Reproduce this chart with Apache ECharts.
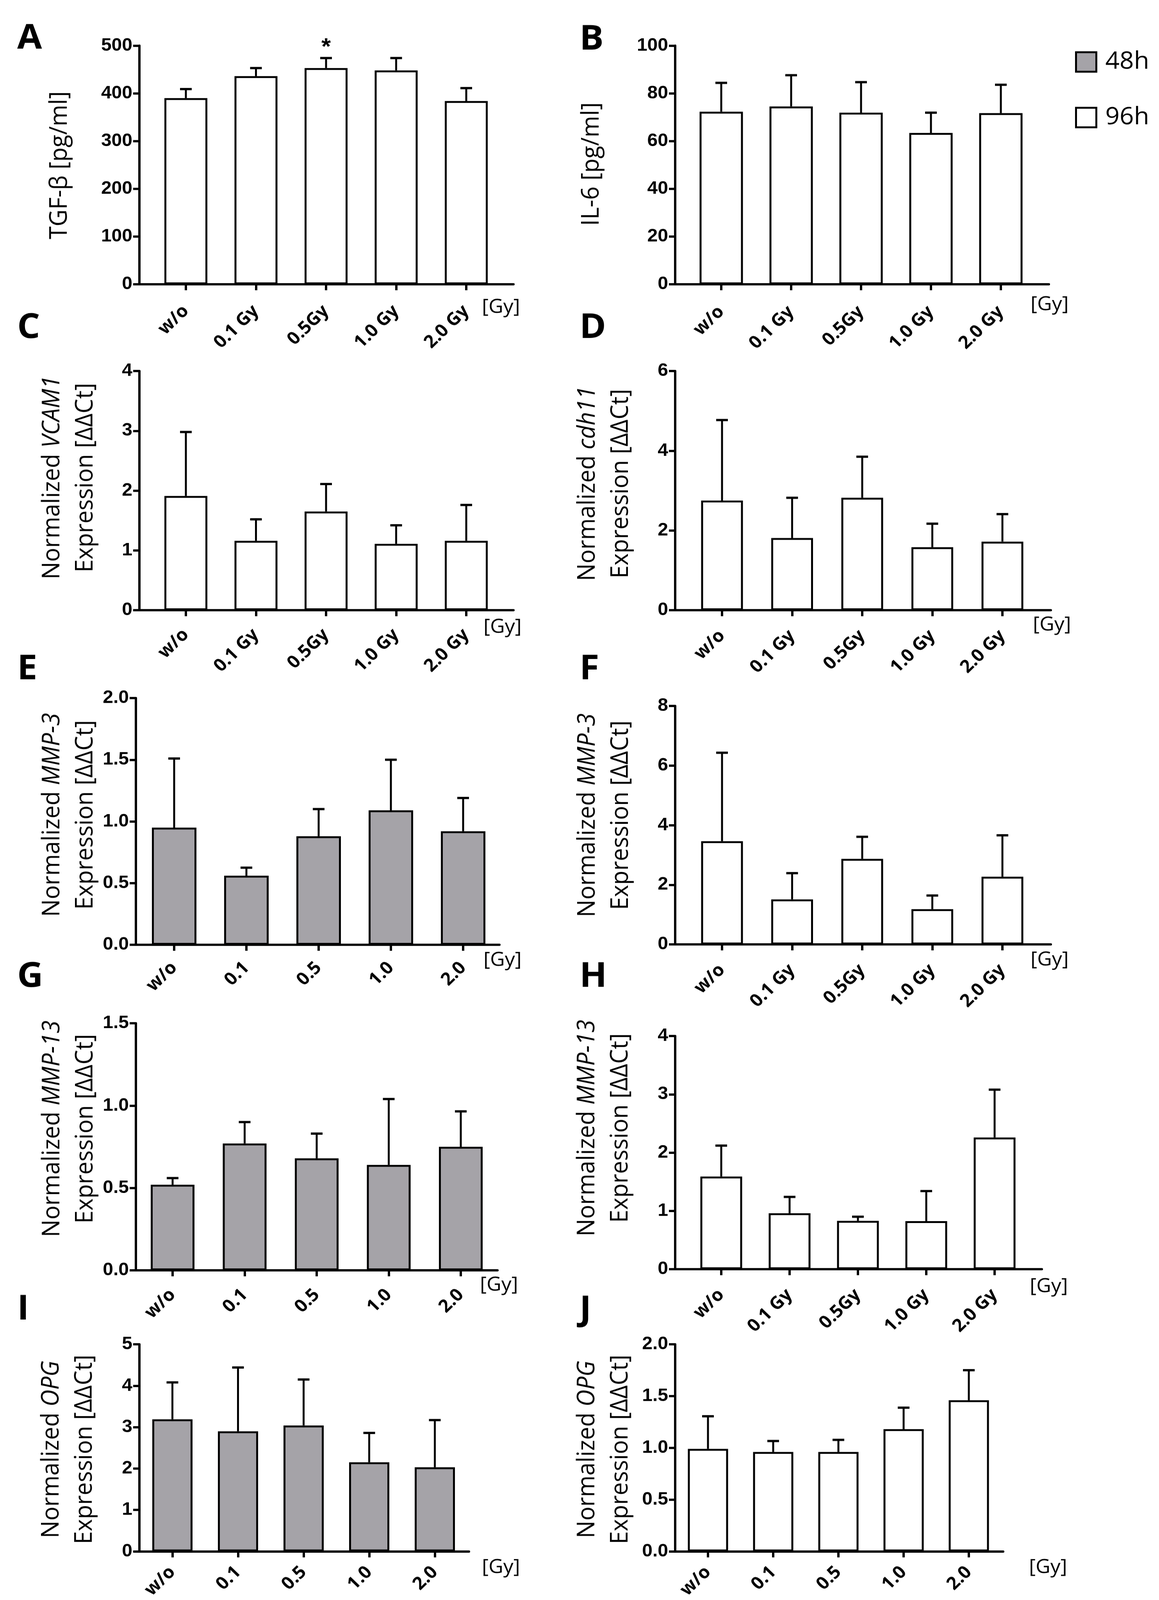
<!DOCTYPE html>
<html>
<head>
<meta charset="utf-8">
<script src="https://cdn.jsdelivr.net/npm/echarts@6/dist/echarts.min.js"></script>
<style>
html,body{margin:0;padding:0;background:#fff;overflow:hidden;}
#chart{width:2968px;height:4261px;transform-origin:0 0;}
</style>
</head>
<body>
<div id="chart"></div>
<script>
// ---------- data ----------
const categoriesGy = ['w/o', '0.1 Gy', '0.5Gy', '1.0 Gy', '2.0 Gy'];
const categoriesDose = ['w/o', '0.1', '0.5', '1.0', '2.0'];

const tgfbMean = [390, 436, 453, 448, 384];
const tgfbSD = [19, 17, 21, 26, 27];
const tgfbSig = ['', '', '*', '', ''];

const il6Mean = [72.3, 74.5, 71.9, 63.4, 71.7];
const il6SD = [12.1, 13.1, 12.8, 8.5, 11.9];

const vcam1Mean = [1.91, 1.16, 1.65, 1.11, 1.16];
const vcam1SD = [1.07, 0.36, 0.46, 0.31, 0.60];

const cdh11Mean = [2.75, 1.81, 2.82, 1.58, 1.72];
const cdh11SD = [2.02, 1.01, 1.03, 0.59, 0.69];

const mmp3h48Mean = [0.95, 0.56, 0.88, 1.09, 0.92];
const mmp3h48SD = [0.56, 0.065, 0.22, 0.41, 0.27];

const mmp3h96Mean = [3.46, 1.51, 2.87, 1.18, 2.27];
const mmp3h96SD = [2.97, 0.88, 0.74, 0.46, 1.39];

const mmp13h48Mean = [0.52, 0.77, 0.68, 0.64, 0.75];
const mmp13h48SD = [0.04, 0.13, 0.15, 0.40, 0.215];

const mmp13h96Mean = [1.59, 0.96, 0.83, 0.825, 2.26];
const mmp13h96SD = [0.53, 0.28, 0.07, 0.515, 0.82];

const opgh48Mean = [3.19, 2.90, 3.04, 2.15, 2.03];
const opgh48SD = [0.89, 1.54, 1.11, 0.71, 1.14];

const opgh96Mean = [0.99, 0.96, 0.96, 1.18, 1.46];
const opgh96SD = [0.315, 0.106, 0.117, 0.208, 0.29];

const legendNames = ['48h', '96h'];

// ---------- panel definitions ----------
const panels = [
  {id:'A', cats:categoriesGy, mean:tgfbMean, sd:tgfbSD, sig:tgfbSig, yMax:500, yStep:100, dec:0, group:'96h',
   title:'{n|TGF-β [pg/ml]}'},
  {id:'B', cats:categoriesGy, mean:il6Mean, sd:il6SD, yMax:100, yStep:20, dec:0, group:'96h',
   title:'{n|IL-6 [pg/ml]}'},
  {id:'C', cats:categoriesGy, mean:vcam1Mean, sd:vcam1SD, yMax:4, yStep:1, dec:0, group:'96h',
   title:'{n|Normalized }{i|VCAM1}\n{n|Expression [ΔΔCt]}'},
  {id:'D', cats:categoriesGy, mean:cdh11Mean, sd:cdh11SD, yMax:6, yStep:2, dec:0, group:'96h',
   title:'{n|Normalized }{i|cdh11}\n{n|Expression [ΔΔCt]}'},
  {id:'E', cats:categoriesDose, mean:mmp3h48Mean, sd:mmp3h48SD, yMax:2, yStep:0.5, dec:1, group:'48h',
   title:'{n|Normalized }{i|MMP-3}\n{n|Expression [ΔΔCt]}'},
  {id:'F', cats:categoriesGy, mean:mmp3h96Mean, sd:mmp3h96SD, yMax:8, yStep:2, dec:0, group:'96h',
   title:'{n|Normalized }{i|MMP-3}\n{n|Expression [ΔΔCt]}'},
  {id:'G', cats:categoriesDose, mean:mmp13h48Mean, sd:mmp13h48SD, yMax:1.5, yStep:0.5, dec:1, group:'48h',
   title:'{n|Normalized }{i|MMP-13}\n{n|Expression [ΔΔCt]}'},
  {id:'H', cats:categoriesGy, mean:mmp13h96Mean, sd:mmp13h96SD, yMax:4, yStep:1, dec:0, group:'96h',
   title:'{n|Normalized }{i|MMP-13}\n{n|Expression [ΔΔCt]}'},
  {id:'I', cats:categoriesDose, mean:opgh48Mean, sd:opgh48SD, yMax:5, yStep:1, dec:0, group:'48h',
   title:'{n|Normalized }{i|OPG}\n{n|Expression [ΔΔCt]}'},
  {id:'J', cats:categoriesDose, mean:opgh96Mean, sd:opgh96SD, yMax:2, yStep:0.5, dec:1, group:'96h',
   title:'{n|Normalized }{i|OPG}\n{n|Expression [ΔΔCt]}'}
];

// ---------- layout (pixel positions) ----------
// ttl = centre of the rotated y-axis title block
const layout = {
  A:{x0:357,  x1:1315, t0:476,  step:179.5, top:121.5, zero:757,  barW:110, ttl:[153,440],    lm:64, gy:[1234,820],  letter:[44,108]},
  B:{x0:1729, x1:2686, t0:1847, step:179,   top:121.5, zero:757,  barW:111, ttl:[1515,437],   lm:66, gy:[2639,813],  letter:[1484,110]},
  C:{x0:357,  x1:1315, t0:476,  step:179.5, top:988,   zero:1625, barW:110, ttl:[177,1272],   lm:58, gy:[1238,1672], letter:[44,878]},
  D:{x0:1729, x1:2691, t0:1849, step:179.5, top:988,   zero:1625, barW:107, ttl:[1548,1288],  lm:61, gy:[2645,1666], letter:[1484,878]},
  E:{x0:348,  x1:1279, t0:446,  step:185,   top:1859,  zero:2516, barW:114, ttl:[177,2170],   lm:54, gy:[1238,2559], letter:[44,1787]},
  F:{x0:1729, x1:2691, t0:1849, step:179.5, top:1880,  zero:2515, barW:107, ttl:[1548,2171],  lm:61, gy:[2639,2558], letter:[1484,1787]},
  G:{x0:348,  x1:1274, t0:442,  step:184.5, top:2725,  zero:3383, barW:112, ttl:[177,3006],   lm:58, gy:[1229,3424], letter:[44,2606]},
  H:{x0:1729, x1:2668, t0:1847, step:175,   top:2759,  zero:3380, barW:107, ttl:[1547,3004],  lm:61, gy:[2637,3428], letter:[1484,2606]},
  I:{x0:357,  x1:1201, t0:441.5,step:168,   top:3580,  zero:4139, barW:103, ttl:[175,3860],   lm:48, gy:[1234,4176], letter:[44,3492]},
  J:{x0:1729, x1:2569, t0:1813, step:167,   top:3580,  zero:4139, barW:103, ttl:[1547,3860],  lm:48, gy:[2635,4176], letter:[1484,3494]}
};

const FIG_W = 2968, FIG_H = 4261;
const SANS = "'Open Sans', 'DejaVu Sans', sans-serif";
const TICKF = "'Liberation Sans', Arial, 'DejaVu Sans', sans-serif";
const GRAY = '#a5a3a8';
const LW = 6;

// fit the whole figure into the visible viewport
const dom = document.getElementById('chart');
const vw = window.innerWidth || FIG_W, vh = window.innerHeight || FIG_H;
dom.style.transform = 'scale(' + (vw / FIG_W) + ',' + (vh / FIG_H) + ')';

const grids = [], xAxes = [], yAxes = [], series = [], graphics = [];

function errRender(sig) {
  return function (params, api) {
    const k = api.value(0), m = api.value(1), s = api.value(2);
    const base = api.coord([k, m]);
    const top = api.coord([k, m + s]);
    const half = 15;
    const children = [
      {type:'line', shape:{x1:base[0], y1:base[1], x2:top[0], y2:top[1]}, style:{stroke:'#000', lineWidth:5}},
      {type:'line', shape:{x1:top[0]-half, y1:top[1], x2:top[0]+half, y2:top[1]}, style:{stroke:'#000', lineWidth:6}}
    ];
    if (sig && sig[params.dataIndex]) {
      children.push({type:'text', style:{text:sig[params.dataIndex], x:top[0], y:top[1]-28,
        align:'center', verticalAlign:'middle', fontSize:62, fontWeight:'bold', fontFamily:TICKF, fill:'#000'}});
    }
    return {type:'group', children};
  };
}

const titleRich = {
  n:{fontFamily:SANS, fontSize:62, fill:'#000', lineHeight:85},
  i:{fontFamily:SANS, fontSize:62, fill:'#000', lineHeight:85, fontStyle:'italic'}
};

panels.forEach((p, i) => {
  const L = layout[p.id];
  grids.push({left:L.x0, top:L.top, width:L.x1 - L.x0, height:L.zero - L.top, containLabel:false});
  const idx = p.cats.map((c, k) => k);
  xAxes.push({
    gridIndex:i, type:'value',
    min:(L.x0 - L.t0) / L.step, max:(L.x1 - L.t0) / L.step,
    splitLine:{show:false},
    axisLine:{show:true, onZero:false, lineStyle:{color:'#000', width:LW}},
    axisTick:{show:true, customValues:idx, length:16, lineStyle:{color:'#000', width:LW}},
    axisLabel:{show:true, customValues:idx, rotate:45, margin:L.lm, hideOverlap:false,
      formatter:(v) => p.cats[Math.round(v)],
      fontFamily:SANS, fontWeight:'bold', fontSize:47, color:'#000'}
  });
  yAxes.push({
    gridIndex:i, type:'value', min:0, max:p.yMax, interval:p.yStep,
    splitLine:{show:false},
    axisLine:{show:true, onZero:false, lineStyle:{color:'#000', width:LW}},
    axisTick:{show:true, length:16, lineStyle:{color:'#000', width:LW}},
    axisLabel:{margin:18, fontFamily:TICKF, fontWeight:'bold', fontSize:48, color:'#000',
      formatter:(v) => v.toFixed(p.dec)}
  });
  series.push({
    type:'bar', name:p.group, xAxisIndex:i, yAxisIndex:i,
    data:p.mean.map((v, k) => [k, v]),
    barWidth:L.barW,
    itemStyle:{color:p.group === '48h' ? GRAY : '#ffffff', borderColor:'#000', borderWidth:5},
    emphasis:{disabled:true}, silent:true, z:2
  });
  series.push({
    type:'custom', xAxisIndex:i, yAxisIndex:i,
    data:p.mean.map((v, k) => [k, v, p.sd[k]]),
    encode:{x:0, y:1},
    renderItem:errRender(p.sig), clip:false, silent:true, z:3
  });
  // rotated y-axis title
  graphics.push({type:'text', x:L.ttl[0], y:L.ttl[1], rotation:Math.PI / 2, silent:true,
    style:{text:p.title, rich:titleRich, fontFamily:SANS, fontSize:62, lineHeight:85, fill:'#000',
      align:'center', verticalAlign:'middle'}});
  // panel letter
  graphics.push({type:'text', left:L.letter[0], top:L.letter[1] - 50, silent:true,
    style:{text:p.id, fontFamily:SANS, fontWeight:'bold', fontSize:92, fill:'#000'}});
  // unit label
  graphics.push({type:'text', left:L.gy[0], top:L.gy[1] - 28, silent:true,
    style:{text:'[Gy]', fontFamily:SANS, fontSize:52, fill:'#000'}});
});

const chart = echarts.init(dom, null, {renderer:'canvas', width:FIG_W, height:FIG_H});
chart.setOption({
  backgroundColor:'#ffffff',
  animation:false,
  grid:grids, xAxis:xAxes, yAxis:yAxes, series:series,
  legend:{
    data:legendNames, orient:'vertical', left:2753, top:133, padding:0,
    itemWidth:52, itemHeight:52, itemGap:84, icon:'rect', selectedMode:false,
    itemStyle:{borderColor:'#000', borderWidth:5},
    textStyle:{fontFamily:SANS, fontSize:64, color:'#000', padding:[0,0,0,18]}
  },
  graphic:graphics
});
</script>
</body>
</html>
